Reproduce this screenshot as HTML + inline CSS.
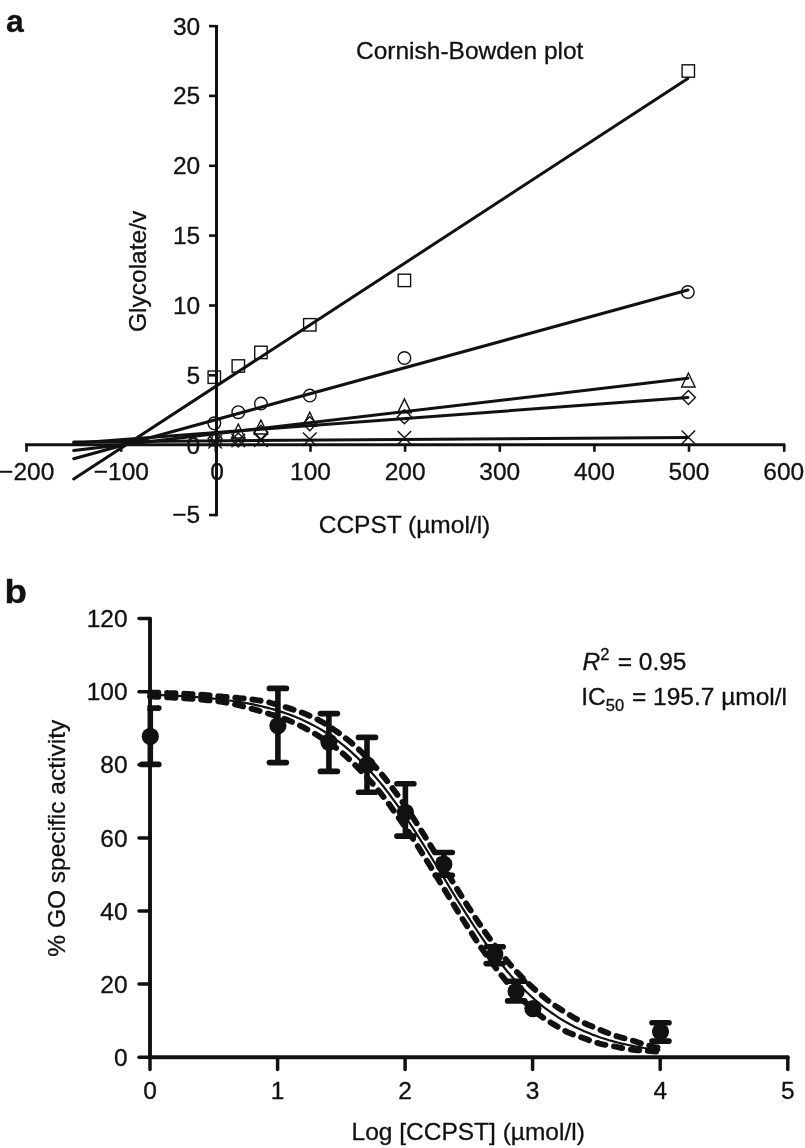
<!DOCTYPE html>
<html lang="en"><head><meta charset="utf-8"><title>Cornish-Bowden plot and IC50 curve</title>
<style>
html,body{margin:0;padding:0;background:#fff;}
svg{display:block;}
svg text{font-family:"Liberation Sans", Arial, Helvetica, sans-serif;fill:#111;stroke:#111;stroke-width:0.3px;stroke-linejoin:round;}
svg{filter:grayscale(1);}
</style></head><body>
<svg width="805" height="1148" viewBox="0 0 805 1148">
<rect width="805" height="1148" fill="#fff"/>
<text x="6" y="32.3" font-size="32" font-weight="bold">a</text>
<g stroke="#111" stroke-width="3" fill="none" stroke-linecap="butt">
<path d="M216.5,24.9 V516.3"/>
<path d="M25.0,444.8 H785.3"/>
</g>
<g stroke="#111" stroke-width="2.6" fill="none">
<path d="M209,26.1 H216.5"/>
<path d="M209,95.9 H216.5"/>
<path d="M209,165.8 H216.5"/>
<path d="M209,235.6 H216.5"/>
<path d="M209,305.5 H216.5"/>
<path d="M209,375.3 H216.5"/>
<path d="M209,445.2 H216.5"/>
<path d="M209,515.0 H216.5"/>
<path d="M26.5,444.8 V451.8"/>
<path d="M121.2,444.8 V451.8"/>
<path d="M215.8,444.8 V451.8"/>
<path d="M310.5,444.8 V451.8"/>
<path d="M405.1,444.8 V451.8"/>
<path d="M499.8,444.8 V451.8"/>
<path d="M594.4,444.8 V451.8"/>
<path d="M689.0,444.8 V451.8"/>
<path d="M784.2,444.8 V451.8"/>
</g>
<g font-size="24.5" text-anchor="end">
<text x="200.2" y="34.5">30</text>
<text x="200.2" y="104.3">25</text>
<text x="200.2" y="174.2">20</text>
<text x="200.2" y="244.0">15</text>
<text x="200.2" y="313.9">10</text>
<text x="200.2" y="383.7">5</text>
<text x="200.2" y="453.6">0</text>
<text x="200.2" y="523.4">−5</text>
</g>
<g font-size="24.5" text-anchor="middle">
<text x="26.7" y="480.4">−200</text>
<text x="121.4" y="480.4">−100</text>
<text x="217.0" y="480.4">0</text>
<text x="310.5" y="480.4">100</text>
<text x="405.1" y="480.4">200</text>
<text x="499.8" y="480.4">300</text>
<text x="594.4" y="480.4">400</text>
<text x="689.0" y="480.4">500</text>
<text x="783.7" y="480.4">600</text>
</g>
<text x="356" y="59" font-size="24.5">Cornish-Bowden plot</text>
<text x="318.7" y="533" font-size="24.5">CCPST (µmol/l)</text>
<text transform="translate(146.0,332.0) rotate(-90)" font-size="24.5">Glycolate/v</text>
<g stroke="#111" stroke-width="3.0" fill="none" stroke-linecap="round">
<path d="M73.7,479.0 L687.9,78.5"/>
<path d="M73.7,458.7 L687.9,290.0"/>
<path d="M73.7,450.6 L687.9,378.2"/>
<path d="M73.7,443.2 L687.9,397.4"/>
<path d="M73.7,441.9 L687.9,437.5"/>
</g>
<g stroke="#111" stroke-width="1.4" fill="none" stroke-linejoin="miter">
<rect x="208.1" y="371.0" width="12.4" height="12.4"/>
<rect x="232.1" y="359.8" width="12.4" height="12.4"/>
<rect x="254.7" y="346.2" width="12.4" height="12.4"/>
<rect x="303.6" y="318.6" width="12.4" height="12.4"/>
<rect x="398.2" y="274.2" width="12.4" height="12.4"/>
<rect x="682.1" y="64.8" width="12.4" height="12.4"/>
<circle cx="214.3" cy="423.3" r="6.3"/>
<circle cx="238.3" cy="412.2" r="6.3"/>
<circle cx="260.9" cy="403.6" r="6.3"/>
<circle cx="309.8" cy="395.6" r="6.3"/>
<circle cx="404.4" cy="358.0" r="6.3"/>
<circle cx="687.8" cy="292.0" r="6.3"/>
<path d="M215.1,431.0 L221.9,445.0 H208.3 Z"/>
<path d="M238.3,424.0 L245.1,438.0 H231.5 Z"/>
<path d="M260.9,420.0 L267.7,434.0 H254.1 Z"/>
<path d="M309.8,412.2 L316.6,426.2 H302.9 Z"/>
<path d="M404.4,398.9 L411.2,412.9 H397.6 Z"/>
<path d="M688.4,373.0 L695.1,387.0 H681.6 Z"/>
<path d="M215.1,431.5 L222.1,438.5 L215.1,445.5 L208.1,438.5 Z"/>
<path d="M238.3,433.0 L245.3,440.0 L238.3,447.0 L231.3,440.0 Z"/>
<path d="M260.9,425.3 L267.9,432.3 L260.9,439.3 L253.9,432.3 Z"/>
<path d="M309.8,416.8 L316.8,423.8 L309.8,430.8 L302.8,423.8 Z"/>
<path d="M404.4,409.8 L411.4,416.8 L404.4,423.8 L397.4,416.8 Z"/>
<path d="M688.4,390.5 L695.4,397.5 L688.4,404.5 L681.4,397.5 Z"/>
<path d="M208.3,435.0 L221.9,448.6 M221.9,435.0 L208.3,448.6"/>
<path d="M231.5,433.7 L245.1,447.3 M245.1,433.7 L231.5,447.3"/>
<path d="M254.1,433.4 L267.7,447.0 M267.7,433.4 L254.1,447.0"/>
<path d="M302.9,432.5 L316.6,446.1 M316.6,432.5 L302.9,446.1"/>
<path d="M397.6,431.0 L411.2,444.6 M411.2,431.0 L397.6,444.6"/>
<path d="M681.6,430.4 L695.1,444.0 M695.1,430.4 L681.6,444.0"/>
</g>
<text transform="translate(4.6,602.8) scale(1.13,1)" font-size="32.5" font-weight="bold">b</text>
<g stroke="#111" stroke-width="3.9" fill="none" stroke-linecap="round">
<path d="M150.0,618.6 V1057.2 H787.8"/>
</g>
<g stroke="#111" stroke-width="3.5" fill="none" stroke-linecap="round">
<path d="M139,1057.2 H150.0"/>
<path d="M139,984.1 H150.0"/>
<path d="M139,911.0 H150.0"/>
<path d="M139,837.9 H150.0"/>
<path d="M139,764.8 H150.0"/>
<path d="M139,691.7 H150.0"/>
<path d="M139,618.6 H150.0"/>
<path d="M150.0,1057.2 V1069.5"/>
<path d="M277.6,1057.2 V1069.5"/>
<path d="M405.1,1057.2 V1069.5"/>
<path d="M532.6,1057.2 V1069.5"/>
<path d="M660.2,1057.2 V1069.5"/>
<path d="M787.8,1057.2 V1069.5"/>
</g>
<g font-size="24.5" text-anchor="end">
<text x="127.6" y="1065.8">0</text>
<text x="127.6" y="992.7">20</text>
<text x="127.6" y="919.6">40</text>
<text x="127.6" y="846.5">60</text>
<text x="127.6" y="773.4">80</text>
<text x="127.6" y="700.3">100</text>
<text x="127.6" y="627.2">120</text>
</g>
<g font-size="24.5" text-anchor="middle">
<text x="150.0" y="1099.2">0</text>
<text x="277.6" y="1099.2">1</text>
<text x="405.1" y="1099.2">2</text>
<text x="532.6" y="1099.2">3</text>
<text x="660.2" y="1099.2">4</text>
<text x="787.8" y="1099.2">5</text>
</g>
<text x="351.5" y="1140.4" font-size="24.5">Log [CCPST] (µmol/l)</text>
<text transform="translate(64.6,956.7) rotate(-90)" font-size="24.5">% GO specific activity</text>
<text x="582.5" y="670" font-size="24.5"><tspan font-style="italic">R</tspan><tspan font-size="16.5" dy="-10">2</tspan><tspan dy="10" dx="1.5"> = 0.95</tspan></text>
<text x="581.3" y="704.5" font-size="24.5">IC<tspan font-size="16.5" dy="6.8">50</tspan><tspan dy="-6.8" dx="1"> = 195.7 µmol/l</tspan></text>
<path d="M150.0,692.5 L153.2,692.6 L156.4,692.7 L159.6,692.8 L162.8,692.9 L165.9,693.0 L169.1,693.1 L172.3,693.2 L175.5,693.3 L178.7,693.5 L181.9,693.6 L185.1,693.8 L188.3,693.9 L191.5,694.1 L194.6,694.3 L197.8,694.5 L201.0,694.7 L204.2,695.0 L207.4,695.3 L210.6,695.6 L213.8,695.9 L217.0,696.2 L220.2,696.5 L223.3,696.8 L226.5,697.0 L229.7,697.3 L232.9,697.5 L236.1,697.8 L239.3,698.1 L242.5,698.4 L245.7,698.7 L248.9,699.1 L252.0,699.5 L255.2,699.9 L258.4,700.4 L261.6,700.9 L264.8,701.5 L268.0,702.2 L271.2,703.0 L274.4,703.8 L277.6,704.7 L280.7,705.7 L283.9,706.7 L287.1,707.6 L290.3,708.6 L293.5,709.7 L296.7,710.8 L299.9,711.9 L303.1,713.1 L306.2,714.3 L309.4,715.7 L312.6,717.1 L315.8,718.6 L319.0,720.3 L322.2,722.0 L325.4,723.9 L328.6,726.0 L331.8,728.1 L334.9,730.3 L338.1,732.5 L341.3,734.9 L344.5,737.3 L347.7,739.8 L350.9,742.4 L354.1,745.1 L357.3,748.0 L360.5,751.0 L363.6,754.1 L366.8,757.4 L370.0,760.9 L373.2,764.4 L376.4,768.1 L379.6,771.8 L382.8,775.7 L386.0,779.6 L389.2,783.7 L392.3,787.9 L395.5,792.2 L398.7,796.6 L401.9,801.1 L405.1,805.7 L408.3,810.5 L411.5,815.3 L414.7,820.2 L417.9,825.2 L421.0,830.2 L424.2,835.3 L427.4,840.4 L430.6,845.6 L433.8,850.8 L437.0,856.0 L440.2,861.3 L443.4,866.5 L446.6,871.7 L449.7,877.0 L452.9,882.2 L456.1,887.4 L459.3,892.6 L462.5,897.7 L465.7,902.8 L468.9,907.8 L472.1,912.7 L475.3,917.6 L478.4,922.4 L481.6,927.1 L484.8,931.7 L488.0,936.2 L491.2,940.6 L494.4,944.9 L497.6,949.1 L500.8,953.1 L504.0,957.1 L507.1,960.9 L510.3,964.7 L513.5,968.3 L516.7,971.8 L519.9,975.1 L523.1,978.4 L526.3,981.6 L529.5,984.6 L532.6,987.5 L535.8,990.3 L539.0,993.1 L542.2,995.8 L545.4,998.5 L548.6,1001.0 L551.8,1003.4 L555.0,1005.7 L558.2,1007.8 L561.3,1009.8 L564.5,1011.8 L567.7,1013.8 L570.9,1015.8 L574.1,1017.7 L577.3,1019.5 L580.5,1021.2 L583.7,1022.8 L586.9,1024.2 L590.0,1025.6 L593.2,1026.9 L596.4,1028.2 L599.6,1029.6 L602.8,1030.9 L606.0,1032.2 L609.2,1033.5 L612.4,1034.7 L615.6,1035.8 L618.7,1036.8 L621.9,1037.7 L625.1,1038.5 L628.3,1039.3 L631.5,1040.3 L634.7,1041.3 L637.9,1042.4 L641.1,1043.4 L644.3,1044.4 L647.4,1045.3 L650.6,1046.1 L653.8,1046.8 L657.0,1047.3 L660.2,1048.2" stroke="#111" stroke-width="5.9" fill="none" stroke-linecap="round" stroke-dasharray="8.4 8.7"/>
<path d="M150.0,696.5 L153.2,696.6 L156.4,696.7 L159.6,696.9 L162.8,697.0 L165.9,697.2 L169.1,697.3 L172.3,697.5 L175.5,697.7 L178.7,697.9 L181.9,698.1 L185.1,698.3 L188.3,698.6 L191.5,698.8 L194.6,699.0 L197.8,699.3 L201.0,699.6 L204.2,699.9 L207.4,700.2 L210.6,700.5 L213.8,700.8 L217.0,701.2 L220.2,701.6 L223.3,702.1 L226.5,702.7 L229.7,703.3 L232.9,703.9 L236.1,704.7 L239.3,705.4 L242.5,706.2 L245.7,707.0 L248.9,707.9 L252.0,708.8 L255.2,709.7 L258.4,710.6 L261.6,711.6 L264.8,712.5 L268.0,713.5 L271.2,714.5 L274.4,715.4 L277.6,716.4 L280.7,717.4 L283.9,718.6 L287.1,719.8 L290.3,721.1 L293.5,722.5 L296.7,724.0 L299.9,725.5 L303.1,727.1 L306.2,728.8 L309.4,730.6 L312.6,732.4 L315.8,734.3 L319.0,736.3 L322.2,738.3 L325.4,740.3 L328.6,742.4 L331.8,744.6 L334.9,747.0 L338.1,749.5 L341.3,752.2 L344.5,754.9 L347.7,757.9 L350.9,760.9 L354.1,764.0 L357.3,767.2 L360.5,770.4 L363.6,773.8 L366.8,777.2 L370.0,780.7 L373.2,784.3 L376.4,788.1 L379.6,791.9 L382.8,796.0 L386.0,800.1 L389.2,804.3 L392.3,808.7 L395.5,813.1 L398.7,817.7 L401.9,822.3 L405.1,826.9 L408.3,831.7 L411.5,836.5 L414.7,841.4 L417.9,846.4 L421.0,851.4 L424.2,856.5 L427.4,861.6 L430.6,866.8 L433.8,872.0 L437.0,877.2 L440.2,882.5 L443.4,887.7 L446.6,892.9 L449.7,898.2 L452.9,903.4 L456.1,908.6 L459.3,913.8 L462.5,918.9 L465.7,924.0 L468.9,929.0 L472.1,933.9 L475.3,938.8 L478.4,943.6 L481.6,948.3 L484.8,952.9 L488.0,957.4 L491.2,961.8 L494.4,966.1 L497.6,970.3 L500.8,974.4 L504.0,978.4 L507.1,982.3 L510.3,986.1 L513.5,989.8 L516.7,993.4 L519.9,996.9 L523.1,1000.2 L526.3,1003.4 L529.5,1006.5 L532.6,1009.4 L535.8,1012.2 L539.0,1014.7 L542.2,1017.0 L545.4,1019.1 L548.6,1021.2 L551.8,1023.2 L555.0,1025.1 L558.2,1027.1 L561.3,1029.1 L564.5,1030.7 L567.7,1032.2 L570.9,1033.6 L574.1,1034.8 L577.3,1035.9 L580.5,1037.1 L583.7,1038.2 L586.9,1039.3 L590.0,1040.6 L593.2,1041.7 L596.4,1042.7 L599.6,1043.6 L602.8,1044.3 L606.0,1044.9 L609.2,1045.5 L612.4,1046.1 L615.6,1046.7 L618.7,1047.3 L621.9,1048.0 L625.1,1048.7 L628.3,1049.2 L631.5,1049.6 L634.7,1050.0 L637.9,1050.2 L641.1,1050.4 L644.3,1050.6 L647.4,1050.8 L650.6,1051.0 L653.8,1051.3 L657.0,1051.6 L660.2,1051.7" stroke="#111" stroke-width="5.9" fill="none" stroke-linecap="round" stroke-dasharray="8.4 8.7"/>
<path d="M150.0,694.7 L153.2,694.8 L156.4,694.9 L159.6,695.0 L162.8,695.1 L165.9,695.3 L169.1,695.4 L172.3,695.6 L175.5,695.7 L178.7,695.9 L181.9,696.1 L185.1,696.3 L188.3,696.5 L191.5,696.7 L194.6,696.9 L197.8,697.2 L201.0,697.4 L204.2,697.7 L207.4,698.0 L210.6,698.3 L213.8,698.6 L217.0,699.0 L220.2,699.3 L223.3,699.7 L226.5,700.1 L229.7,700.5 L232.9,701.0 L236.1,701.4 L239.3,701.9 L242.5,702.5 L245.7,703.0 L248.9,703.6 L252.0,704.2 L255.2,704.9 L258.4,705.6 L261.6,706.3 L264.8,707.1 L268.0,707.9 L271.2,708.7 L274.4,709.6 L277.6,710.6 L280.7,711.6 L283.9,712.6 L287.1,713.7 L290.3,714.9 L293.5,716.1 L296.7,717.4 L299.9,718.8 L303.1,720.2 L306.2,721.7 L309.4,723.3 L312.6,724.9 L315.8,726.6 L319.0,728.4 L322.2,730.3 L325.4,732.3 L328.6,734.4 L331.8,736.6 L334.9,738.8 L338.1,741.2 L341.3,743.6 L344.5,746.2 L347.7,748.9 L350.9,751.7 L354.1,754.6 L357.3,757.6 L360.5,760.7 L363.6,764.0 L366.8,767.3 L370.0,770.8 L373.2,774.4 L376.4,778.1 L379.6,781.9 L382.8,785.8 L386.0,789.9 L389.2,794.0 L392.3,798.3 L395.5,802.6 L398.7,807.1 L401.9,811.7 L405.1,816.3 L408.3,821.1 L411.5,825.9 L414.7,830.8 L417.9,835.8 L421.0,840.8 L424.2,845.9 L427.4,851.0 L430.6,856.2 L433.8,861.4 L437.0,866.6 L440.2,871.9 L443.4,877.1 L446.6,882.3 L449.7,887.6 L452.9,892.8 L456.1,898.0 L459.3,903.1 L462.5,908.2 L465.7,913.2 L468.9,918.2 L472.1,923.1 L475.3,928.0 L478.4,932.7 L481.6,937.4 L484.8,942.0 L488.0,946.5 L491.2,950.9 L494.4,955.1 L497.6,959.3 L500.8,963.4 L504.0,967.3 L507.1,971.2 L510.3,974.9 L513.5,978.5 L516.7,982.0 L519.9,985.4 L523.1,988.6 L526.3,991.8 L529.5,994.8 L532.6,997.7 L535.8,1000.5 L539.0,1003.2 L542.2,1005.8 L545.4,1008.3 L548.6,1010.7 L551.8,1013.0 L555.0,1015.2 L558.2,1017.3 L561.3,1019.3 L564.5,1021.2 L567.7,1023.0 L570.9,1024.8 L574.1,1026.4 L577.3,1028.0 L580.5,1029.5 L583.7,1031.0 L586.9,1032.3 L590.0,1033.6 L593.2,1034.9 L596.4,1036.0 L599.6,1037.2 L602.8,1038.2 L606.0,1039.2 L609.2,1040.2 L612.4,1041.1 L615.6,1042.0 L618.7,1042.8 L621.9,1043.6 L625.1,1044.3 L628.3,1045.0 L631.5,1045.6 L634.7,1046.3 L637.9,1046.9 L641.1,1047.4 L644.3,1048.0 L647.4,1048.5 L650.6,1048.9 L653.8,1049.4 L657.0,1049.8 L660.2,1050.2" stroke="#111" stroke-width="2.2" fill="none"/>
<g stroke="#111" stroke-width="5.6" fill="none" stroke-linecap="round">
<path d="M150.3,708.1 V764.4" stroke-linecap="butt"/>
<path d="M147.3,708.1 H158.8" stroke-linecap="butt"/><path d="M158.7,708.1 h0.1"/>
<path d="M141.8,764.4 H158.8"/>
<path d="M277.9,688.4 V762.6" stroke-linecap="butt"/>
<path d="M269.4,688.4 H286.4"/>
<path d="M269.4,762.6 H286.4"/>
<path d="M328.9,713.6 V771.4" stroke-linecap="butt"/>
<path d="M320.4,713.6 H337.4"/>
<path d="M320.4,771.4 H337.4"/>
<path d="M367.0,737.4 V792.2" stroke-linecap="butt"/>
<path d="M358.5,737.4 H375.5"/>
<path d="M358.5,792.2 H375.5"/>
<path d="M405.4,783.8 V836.1" stroke-linecap="butt"/>
<path d="M396.9,783.8 H413.9"/>
<path d="M396.9,836.1 H413.9"/>
<path d="M443.8,852.5 V875.2" stroke-linecap="butt"/>
<path d="M435.3,852.5 H452.3"/>
<path d="M435.3,875.2 H452.3"/>
<path d="M494.7,946.8 V963.6" stroke-linecap="butt"/>
<path d="M486.2,946.8 H503.2"/>
<path d="M486.2,963.6 H503.2"/>
<path d="M516.1,981.2 V1000.9" stroke-linecap="butt"/>
<path d="M507.6,981.2 H524.6"/>
<path d="M507.6,1000.9 H524.6"/>
<path d="M660.5,1022.8 V1041.1" stroke-linecap="butt"/>
<path d="M652.0,1022.8 H669.0"/>
<path d="M652.0,1041.1 H669.0"/>
</g>
<g fill="#111">
<circle cx="150.3" cy="736.3" r="8.6"/>
<circle cx="277.9" cy="725.7" r="8.6"/>
<circle cx="328.9" cy="742.1" r="8.6"/>
<circle cx="367.0" cy="764.8" r="8.6"/>
<circle cx="405.4" cy="812.3" r="8.6"/>
<circle cx="443.8" cy="864.2" r="8.6"/>
<circle cx="494.7" cy="954.9" r="8.6"/>
<circle cx="516.1" cy="991.4" r="8.6"/>
<circle cx="532.9" cy="1008.6" r="8.6"/>
<circle cx="660.5" cy="1031.6" r="8.6"/>
</g>
</svg>
</body></html>
